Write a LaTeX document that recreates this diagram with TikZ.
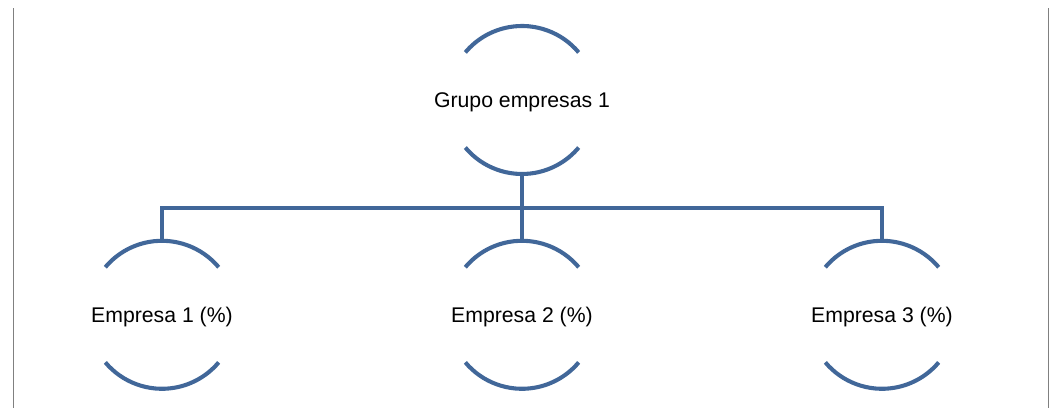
\documentclass[tikz,border=0pt]{standalone}
\usepackage{fontspec}
\setmainfont{Liberation Sans}
\usetikzlibrary{calc,positioning}
\definecolor{chartblue}{RGB}{65,103,153}

\begin{document}
\begin{tikzpicture}[auto, node distance=5.3cm,
    unit/.style={circle, minimum size=3.7cm, inner sep=0pt, outer sep=0pt,
        label={[font=\fontsize{15.1}{18}\selectfont, yshift=-0.06cm]center:#1}},
    rim/.style={draw=chartblue, line width=2.9pt},
    frame/.style={draw=gray, line width=0.7pt}
]
    \useasboundingbox (0,0) rectangle (26.35,10.2);
    % Frame
    \draw [frame] (0.325,0) -- (0.325,10.0);
    \draw [frame] (26.2,0) -- (26.2,10.0);
    % Group
    \node [unit={Grupo empresas 1}] (Group1) at (13.05,7.7) {};
    % Companies
    \node [unit={Empresa 2 (\%)}] (Company2) at (13.05,2.33) {};
    \node [unit={Empresa 1 (\%)}, left=of Company2] (Company1) {};
    \node [unit={Empresa 3 (\%)}, right=of Company2] (Company3) {};
    % Arcs
    \foreach \n in {Group1,Company1,Company2,Company3} {
        \draw [rim] (\n.40) arc[start angle=40, end angle=140, radius=1.85cm];
        \draw [rim] (\n.220) arc[start angle=220, end angle=320, radius=1.85cm];
    }
    % Links
    \coordinate (Bus) at ($(Group1.south)+(0,-0.85)$);
    \draw [rim] (Group1.south) -- (Bus);
    \foreach \n in {Company1,Company2,Company3}
        \draw [rim] (Bus) -| (\n.north);
\end{tikzpicture}
\end{document}
